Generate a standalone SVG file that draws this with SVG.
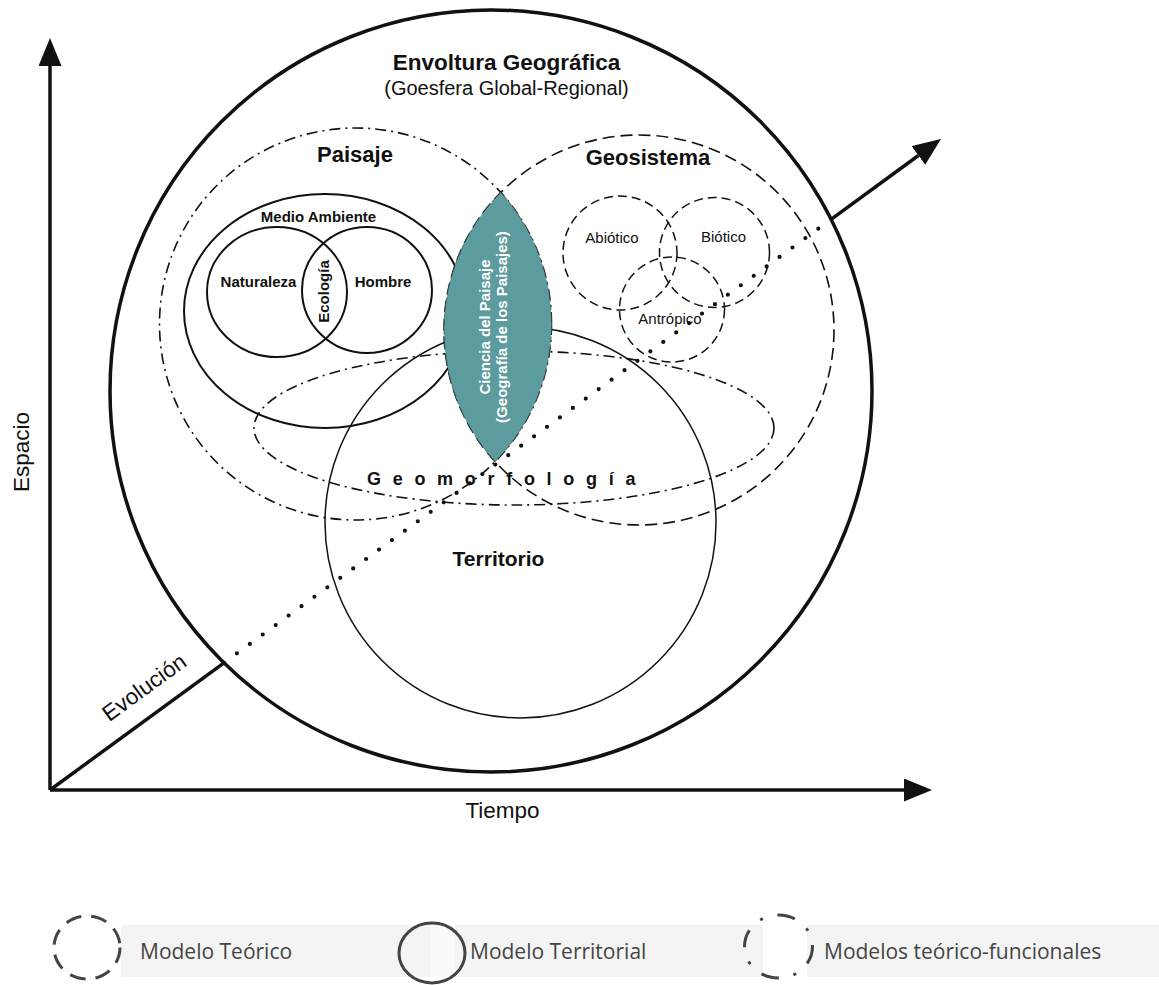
<svg xmlns="http://www.w3.org/2000/svg" width="1159" height="985" viewBox="0 0 1159 985">
<style>
  .b{font-family:"Liberation Sans",Arial,sans-serif;font-weight:bold;fill:#111}
  .r{font-family:"Liberation Sans",Arial,sans-serif;fill:#111}
  .w{font-family:"Liberation Sans",Arial,sans-serif;font-weight:bold;fill:#fff;font-size:15px;text-anchor:middle}
  .solid{fill:none;stroke:#111;stroke-width:2}
  .thin{fill:none;stroke:#111;stroke-width:1.5}
  .dash{fill:none;stroke:#111;stroke-width:1.6;stroke-dasharray:12 6}
  .dash2{fill:none;stroke:#111;stroke-width:1.5;stroke-dasharray:9 5}
  .dd{fill:none;stroke:#111;stroke-width:1.6;stroke-dasharray:11 5 2 5}
  .axis{fill:none;stroke:#111;stroke-width:3.5}
  .leg{font-family:"Open Sans","Liberation Sans",sans-serif;font-size:21px;fill:#444}
  .lc{fill:none;stroke:#444;stroke-width:3}
</style>
<defs>
  <marker id="ah" viewBox="0 0 28 23" refX="0" refY="11.5" markerWidth="28" markerHeight="23" markerUnits="userSpaceOnUse" orient="auto">
    <path d="M0,0 L28,11.5 L0,23 Z" fill="#111"/>
  </marker>
</defs>
<rect width="1159" height="985" fill="#fff"/>

<g id="envoltura">
  <circle cx="491" cy="391" r="381" fill="none" stroke="#111" stroke-width="3.5"/>
  <text class="b" x="506.5" y="70" font-size="22.5" text-anchor="middle">Envoltura Geográfica</text>
  <text class="r" x="506.5" y="95" font-size="20" text-anchor="middle">(Goesfera Global-Regional)</text>
</g>

<g id="paisaje">
  <circle class="dd" cx="355.5" cy="324" r="196"/>
  <text class="b" x="355" y="162" font-size="22" text-anchor="middle">Paisaje</text>
</g>

<g id="geosistema">
  <circle class="dash" cx="639" cy="330" r="195"/>
  <text class="b" x="648" y="165" font-size="22" text-anchor="middle">Geosistema</text>
</g>

<g id="geomorfologia">
  <ellipse class="dd" cx="514" cy="428" rx="260" ry="77"/>
</g>

<g id="territorio">
  <circle class="thin" cx="520.5" cy="522.5" r="195.5"/>
  <text class="b" x="498.5" y="566" font-size="21" text-anchor="middle">Territorio</text>
</g>

<g id="medio-ambiente">
  <ellipse class="solid" cx="325" cy="311" rx="141" ry="117"/>
  <text class="b" x="318.5" y="222" font-size="15" text-anchor="middle">Medio Ambiente</text>
</g>

<g id="naturaleza">
  <ellipse class="solid" cx="277" cy="292" rx="70" ry="65"/>
  <text class="b" x="258.5" y="287" font-size="15" text-anchor="middle">Naturaleza</text>
</g>

<g id="hombre">
  <ellipse class="solid" cx="367" cy="290" rx="65" ry="63"/>
  <text class="b" x="383" y="287" font-size="15" text-anchor="middle">Hombre</text>
</g>

<g id="ecologia">
  <text class="b" font-size="15" text-anchor="middle" transform="translate(329,291.5) rotate(-90)">Ecología</text>
</g>

<g id="abiotico">
  <circle class="dash2" cx="620" cy="253" r="57"/>
  <text class="r" x="612" y="243" font-size="15" text-anchor="middle">Abiótico</text>
</g>
<g id="biotico">
  <circle class="dash2" cx="714.5" cy="252.5" r="55"/>
  <text class="r" x="723.5" y="242" font-size="15" text-anchor="middle">Biótico</text>
</g>
<g id="antropico">
  <circle class="dash2" cx="672" cy="309.5" r="52.5"/>
  <text class="r" x="670" y="324" font-size="15" text-anchor="middle">Antrópico</text>
</g>

<g id="ciencia-del-paisaje">
  <path d="M500.8,192.4 A195,195 0 0 0 495.1,461.6 A196,196 0 0 0 500.8,192.4 Z" fill="#5c9b9e" stroke="#3a4a4a" stroke-width="0.8" stroke-dasharray="5 3"/>
  <text class="w" transform="translate(490,327) rotate(-90)">Ciencia del Paisaje</text>
  <text class="w" transform="translate(507,327) rotate(-90)">(Geografía de los Paisajes)</text>
</g>

<g id="geomorfologia-label">
  <text class="b" x="367" y="485" font-size="18" letter-spacing="11.7">Geomorfología</text>
</g>

<g id="connectors">
  <line class="axis" x1="50" y1="790" x2="50" y2="66" marker-end="url(#ah)"/>
  <line class="axis" x1="50" y1="790" x2="904" y2="790" marker-end="url(#ah)"/>
  <line class="axis" x1="50" y1="790" x2="224" y2="662.8"/>
  <line x1="224" y1="662.8" x2="831.1" y2="219.3" fill="none" stroke="#111" stroke-width="4.2" stroke-linecap="round" stroke-dasharray="0 16"/>
  <line class="axis" x1="831.1" y1="219.3" x2="918.4" y2="155.5" marker-end="url(#ah)"/>
  <text class="r" x="502.5" y="818" font-size="22.5" text-anchor="middle">Tiempo</text>
  <text class="r" font-size="22.5" text-anchor="middle" transform="translate(29,452) rotate(-90)">Espacio</text>
  <text class="r" font-size="22.5" text-anchor="middle" transform="translate(148.7,693.5) rotate(-36.1)">Evolución</text>
</g>

<g id="legend">
  <rect x="121" y="925" width="1038" height="52" fill="#f4f4f4"/>
  <rect x="430" y="925" width="25" height="52" fill="#fafafa"/>
  <rect x="763" y="925" width="44" height="52" fill="#fff"/>
  <ellipse class="lc" cx="87" cy="947.5" rx="33" ry="31.5" stroke-dasharray="16 10"/>
  <text class="leg" x="140" y="959">Modelo Teórico</text>
  <ellipse class="lc" cx="432" cy="953" rx="33" ry="30"/>
  <text class="leg" x="470" y="959">Modelo Territorial</text>
  <ellipse class="lc" cx="778.5" cy="946.5" rx="34" ry="31.5" stroke-dasharray="18 15 3 15"/>
  <text class="leg" x="824" y="959">Modelos teórico-funcionales</text>
</g>
</svg>
